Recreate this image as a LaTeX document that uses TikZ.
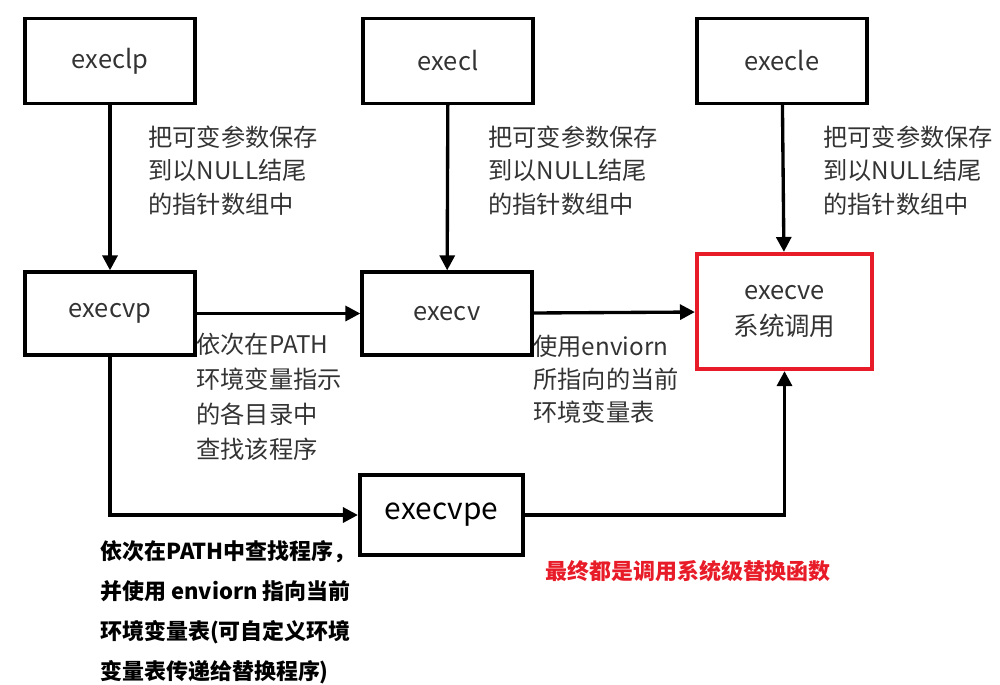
\documentclass[tikz,border=0pt]{standalone}
\usepackage{fontspec}
\setmainfont{Noto Sans CJK SC}
\usetikzlibrary{arrows.meta,positioning}
\definecolor{callred}{RGB}{232,28,40}
\tikzset{
  funcbox/.style={draw, line width=1.9pt, minimum width=3.4cm, minimum height=1.7cm,
                  font=\fontsize{14.5}{17}\selectfont, text=black!80, align=center},
  flowarrow/.style={-{Triangle[length=8.5pt,width=8.5pt]}, line width=1.9pt},
  notetext/.style={font=\fontsize{13.8}{18.8}\selectfont, align=left, inner sep=0pt,
                   anchor=north west, text=black!80},
  boldnote/.style={font=\fontsize{12.5}{22.7}\selectfont\bfseries, align=left,
                   inner sep=0pt, anchor=north west}
}
\begin{document}
\begin{tikzpicture}[x=0.02cm, y=-0.02cm]
    \useasboundingbox (0,0) rectangle (1000,684);

    % top row
    \node[funcbox] (execlp) at (110,61)  {execlp};
    \node[funcbox] (execl)  at (448,61)  {execl};
    \node[funcbox] (execle) at (782,61)  {execle};

    % middle row
    \node[funcbox, minimum height=1.66cm] (execvp) at (110,313.5) {execvp};
    \node[funcbox, minimum height=1.66cm] (execv)  at (447,313.5) {execv};
    \node[funcbox, draw=callred, line width=2.4pt, minimum width=3.5cm, minimum height=2.3cm,
          font=\fontsize{14.5}{20}\selectfont] (execve) at (784.5,311.5) {execve\\系统调用};

    % bottom
    \node[funcbox, line width=2.4pt, minimum width=3.26cm, minimum height=1.6cm,
          text=black, font=\fontsize{17}{20}\selectfont] (execvpe) at (441.5,515) {execvpe};

    % arrows
    \draw[flowarrow] (execlp) -- (execvp);
    \draw[flowarrow] (execl) -- (execv);
    \draw[flowarrow] (execle) -- (execve);
    \draw[flowarrow] (execvp) -- (execv);
    \draw[flowarrow] (execv) -- (execve);
    \draw[flowarrow] (execvp.south) |- (execvpe.west);
    \draw[flowarrow] (execvpe.east) -| (execve.south);

    % notes
    \node[notetext] (saveA) at (148,126) {把可变参数保存\\到以NULL结尾\\的指针数组中};
    \node[notetext] (saveB) at (488,126) {把可变参数保存\\到以NULL结尾\\的指针数组中};
    \node[notetext] (saveC) at (823,126) {把可变参数保存\\到以NULL结尾\\的指针数组中};
    \node[notetext, font=\fontsize{13.8}{19.8}\selectfont] (pathnote) at (196,333)
      {依次在PATH\\环境变量指示\\的各目录中\\查找该程序};
    \node[notetext] (envnote)  at (533,335) {使用enviorn\\所指向的当前\\环境变量表};
    \node[boldnote] (vpenote) at (100,540)
      {依次在PATH中查找程序，\\并使用 enviorn 指向当前\\环境变量表(可自定义环境\\变量表传递给替换程序)};
    \node[boldnote, text=callred] (finalnote) at (545,560) {最终都是调用系统级替换函数};
  \end{tikzpicture}
\end{document}
